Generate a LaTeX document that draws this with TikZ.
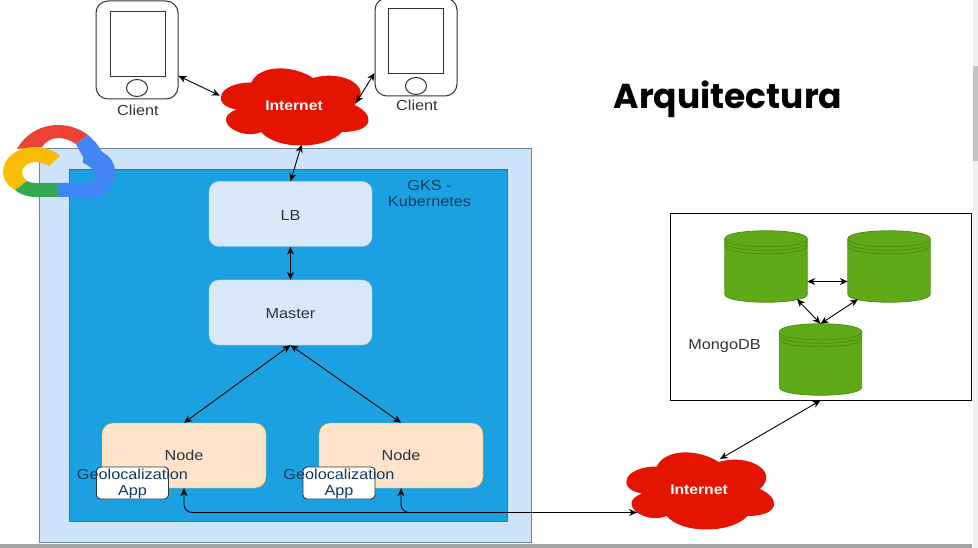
\documentclass[tikz,border=0pt]{standalone}
\usepackage{fontspec}
\setmainfont[FakeStretch=1.12]{Liberation Sans}
\newfontfamily\titlefont{Poppins}
\usetikzlibrary{arrows.meta,calc,shapes.geometric}
\definecolor{outerblue}{HTML}{CCE3FA}
\definecolor{outerline}{HTML}{6F8296}
\definecolor{innerblue}{HTML}{1BA1E2}
\definecolor{innerline}{HTML}{0F7FBF}
\definecolor{lbblue}{HTML}{D8E7FA}
\definecolor{nodefill}{HTML}{FFE3CA}
\definecolor{nodeline}{HTML}{DDA520}
\definecolor{netred}{HTML}{E51400}
\definecolor{dbgreen}{HTML}{60A917}
\definecolor{dbline}{HTML}{4A8F12}
\definecolor{labelgray}{HTML}{333333}
\definecolor{labelnavy}{HTML}{12395C}
\definecolor{bandgray}{HTML}{A3A3A3}
\definecolor{stripgray}{HTML}{F0F0F0}
\definecolor{thumbgray}{HTML}{C4C4C4}
\definecolor{gred}{HTML}{EA4335}
\definecolor{gyellow}{HTML}{FBBC05}
\definecolor{ggreen}{HTML}{34A853}
\definecolor{gblue}{HTML}{4285F4}
\tikzset{
  link/.style={{Stealth[length=8pt,width=7pt]}-{Stealth[length=8pt,width=7pt]}, line width=0.9pt},
  onelink/.style={-{Stealth[length=8pt,width=7pt]}, line width=0.9pt},
  lightbox/.style={draw=lbblue!80!gray, fill=lbblue, rounded corners=10pt, minimum width=163pt, minimum height=65pt, text height=13pt, text=labelgray, font=\fontsize{14.5}{16}\selectfont},
  workbox/.style={draw=nodeline, fill=nodefill, rounded corners=11pt, minimum width=164pt, minimum height=65pt, text=labelgray, font=\fontsize{14.5}{16}\selectfont},
  appbox/.style={draw=black!80, line width=0.9pt, fill=white, rounded corners=4pt, minimum width=72pt, minimum height=32pt},
  applabel/.style={text=labelnavy, align=center, font=\fontsize{14.5}{15.5}\selectfont},
  phone/.style={draw=black!80, line width=1pt, rounded corners=12pt, minimum width=82pt, minimum height=98pt},
  screen/.style={draw=black!80, line width=1pt, minimum width=55pt, minimum height=65pt},
  homekey/.style={draw=black!80, line width=1pt, ellipse, minimum width=21pt, minimum height=17pt},
  netcloud/.style={minimum width=148pt, minimum height=77pt, inner sep=0pt, text=white, font=\bfseries\fontsize{14}{16}\selectfont},
  netblob/.style={fill=netred, x=165pt, y=-90pt},
  dbcyl/.style={minimum width=82pt, minimum height=71pt, inner sep=0pt},
  note/.style={text=labelgray, font=\fontsize{14.5}{16}\selectfont}
}
\newcommand{\netshape}[1]{
  \fill[netblob, shift={(#1.center)}] (-.25,-.25) .. controls (-.45,-.25) and (-.5,0) .. (-.34,.05)
    .. controls (-.5,.16) and (-.32,.4) .. (-.19,.3) .. controls (-.1,.5) and (.2,.5) .. (.3,.3)
    .. controls (.5,.3) and (.5,.1) .. (.375,0) .. controls (.5,-.2) and (.3,-.4) .. (.125,-.3)
    .. controls (0,-.45) and (-.2,-.45) .. (-.25,-.25) -- cycle;
}
\begin{document}
\begin{tikzpicture}[x=1pt,y=-1pt]
  \useasboundingbox (0,0) rectangle (978,548);

  \fill[outerblue, draw=outerline, line width=1pt] (39,149) rectangle (531,542);
  \fill[innerblue, draw=innerline, line width=1pt] (69,170) rectangle (507,521);

  % phones
  \node[phone] (phoneA) at (137,50) {};
  \node[screen] (screenA) at (137.5,44.5) {};
  \node[homekey] (keyA) at (137,88) {};
  \node[note] (clientA) at (138,110.5) {Client};
  \node[phone] (phoneB) at (416,47) {};
  \node[screen] (screenB) at (416,41.5) {};
  \node[homekey] (keyB) at (416,86) {};
  \node[note] (clientB) at (417,105.5) {Client};

  % clouds
  \coordinate (blobA) at (292.5,105);
  \coordinate (blobB) at (698,489);
  \netshape{blobA}
  \netshape{blobB}
  \node[netcloud] (cloudA) at (294,106) {Internet};
  \node[netcloud] (cloudB) at (699,489.5) {Internet};

  % cluster
  \node[lightbox] (lb) at (290.5,214) {LB};
  \node[lightbox] (master) at (290.5,312.5) {Master};
  \node[workbox] (nodeA) at (184,455.5) {Node};
  \node[workbox] (nodeB) at (401,455.5) {Node};
  \node[appbox] (appA) at (132.5,483) {};
  \node[appbox] (appB) at (339,483) {};
  \node[applabel] (geoA) at (132.5,483.5) {Geolocalization\\App};
  \node[applabel] (geoB) at (339,483.5) {Geolocalization\\App};
  \node[note, align=center, text=labelnavy] (gks) at (429.5,194) {GKS -\\Kubernetes};

  % database
  \node[draw=black, line width=1pt, minimum width=301pt, minimum height=186pt] (mongo) at (820.5,307) {};
  \node[dbcyl] (dbA) at (766,266.5) {};
  \node[dbcyl] (dbB) at (889,266.5) {};
  \node[dbcyl] (dbC) at (820.5,359.5) {};
  \foreach \db in {dbA,dbB,dbC} {
    \filldraw[draw=dbline, fill=dbgreen, line width=0.8pt] ($(\db.north west)+(0,8)$) -- ($(\db.south west)+(0,-8)$)
      .. controls +(0,10.7) and ($(\db.south east)+(0,2.7)$) .. ($(\db.south east)+(0,-8)$)
      -- ($(\db.north east)+(0,8)$)
      .. controls +(0,-10.7) and ($(\db.north west)+(0,-2.7)$) .. ($(\db.north west)+(0,8)$) -- cycle;
    \foreach \off in {8,11.5,15}
      \draw[dbline, line width=0.8pt] ($(\db.north west)+(0,\off)$) .. controls +(0,10.7) and ($(\db.north east)+(0,\off+10.7)$) .. ($(\db.north east)+(0,\off)$);
  }
  \node[note] (mongolabel) at (724.5,346.5) {MongoDB};

  % free ends
  \coordinate (cloudAright) at (356,103);
  \coordinate (cloudBport) at (637,512.5);
  \coordinate (cloudBtop) at (720,459);

  \draw[link] (phoneA.-32) -- (cloudA.172);
  \draw[link] (phoneB.212) -- (cloudAright);
  \draw[link] (cloudA.-79) -- (lb.north);
  \draw[link] (lb.south) -- (master.north);
  \draw[link] (master.south) -- (nodeA.north);
  \draw[link] (master.south) -- (nodeB.north);
  \draw[link, rounded corners=8pt] (nodeA.south) |- (cloudBport);
  \draw[onelink, rounded corners=8pt] (cloudBport) -| (nodeB.south);
  \draw[link] (cloudBtop) -- (mongo.south);
  \draw[link] ([yshift=-15pt]dbA.east) -- ([yshift=-15pt]dbB.west);
  \draw[link] ([yshift=3pt]dbA.-49) -- (dbC.north);
  \draw[link] ([yshift=3pt]dbB.-131) -- (dbC.north);

  % logo
  \fill[gred] (17,149) .. controls (26,133) and (42,125) .. (58,125) .. controls (70,125) and (80,129) .. (88,135) -- (76,144) .. controls (70,140) and (64,138) .. (58,138) .. controls (52,138) and (46,141) .. (42,147) -- cycle;
  \fill[gyellow] (60,156) .. controls (53,150) and (44,147) .. (35,147) .. controls (17,147) and (3,158) .. (3,172) .. controls (3,179) and (8,186) .. (15,190) -- (27,181) .. controls (24,179) and (22,175) .. (22,172) .. controls (22,167) and (28,162) .. (35,162) .. controls (40,162) and (45,164) .. (49,166) -- cycle;
  \fill[ggreen] (15,190) -- (27,181) .. controls (31,183) and (35,183) .. (39,183) -- (58,183) -- (58,197) -- (36,197) .. controls (28,197) and (21,195) .. (15,190);
  \fill[gblue] (58,183) -- (88,183) .. controls (92,183) and (95,180) .. (95,176) .. controls (95,170) and (90,166) .. (83,163) -- (83,157) -- (76,144) -- (88,135) .. controls (94,140) and (99,146) .. (102,152) .. controls (110,156) and (115,163) .. (115,172) .. controls (115,186) and (106,197) .. (95,197) -- (58,197) -- cycle;

  \node[font=\titlefont\bfseries\fontsize{34.5}{40}\selectfont] (title) at (728,99) {Arquitectura};

  % window edges
  \fill[stripgray] (973,0) rectangle (978,548);
  \fill[thumbgray] (973,66) rectangle (978,161);
  \fill[bandgray] (0,544) rectangle (972,548);
\end{tikzpicture}
\end{document}
